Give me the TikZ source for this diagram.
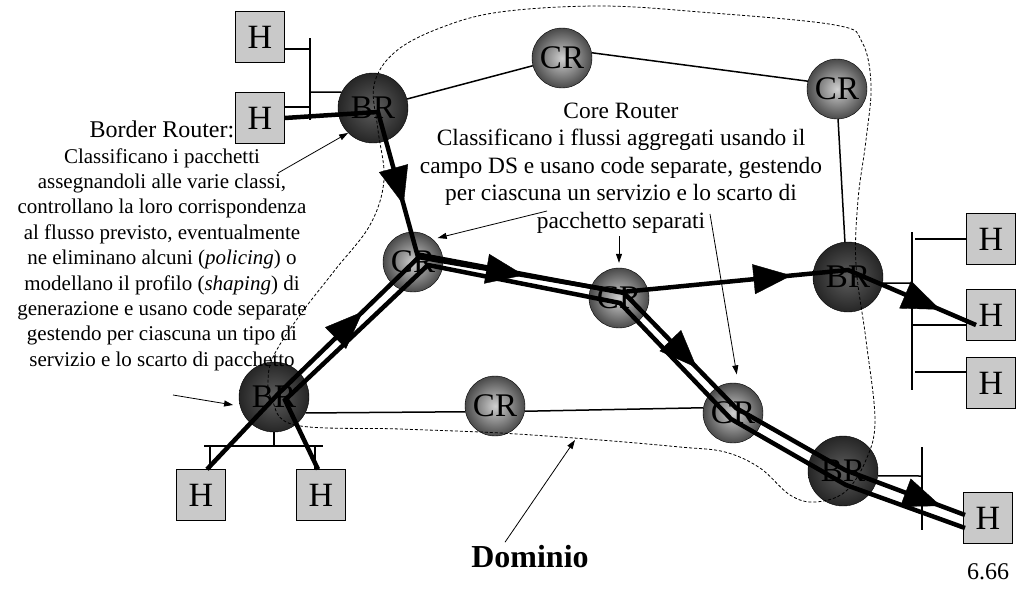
\documentclass[tikz,border=0pt]{standalone}
\usepackage{fontspec}
\setmainfont{Liberation Serif}
\usetikzlibrary{arrows.meta,decorations.markings}

\begin{document}
\begin{tikzpicture}[x=1pt,y=-1pt,
  router/.style={circle,draw,inner sep=0pt,shading=radial,font=\fontsize{33}{33}\selectfont},
  brnode/.style={router,minimum size=70pt,inner color=brin,outer color=brout},
  crnode/.style={router,minimum size=60pt,inner color=crin,outer color=crout},
  host/.style={draw,fill=hostgray,minimum width=49pt,minimum height=51pt,inner sep=0pt,font=\fontsize{34}{34}\selectfont},
  link/.style={line width=1.5pt},
  flow/.style={line width=4.5pt},
  midtip/.style={postaction=decorate,decoration={markings,mark=at position #1 with {\arrow{Triangle[length=38pt,width=30pt]}}}},
  note/.style={-{Triangle[length=9pt,width=6pt]},line width=0.8pt},
  boundary/.style={dash pattern=on 3pt off 2pt,line width=0.8pt}]
\definecolor{brin}{HTML}{5E5E5E}
\definecolor{brout}{HTML}{262626}
\definecolor{crin}{HTML}{CFCFCF}
\definecolor{crout}{HTML}{4A4A4A}
\definecolor{hostgray}{HTML}{C9C9C9}
\useasboundingbox (0,0) rectangle (1021,590);

\node[brnode] (BRtl) at (373,108) {BR};
\node[crnode] (CRt) at (562,58) {CR};
\node[crnode] (CRtr) at (837,89) {CR};
\node[crnode] (CRml) at (413,262) {CR};
\node[crnode] (CRmid) at (619,298) {CR};
\node[crnode] (CRb) at (495,406) {CR};
\node[brnode] (BRr) at (848,277) {BR};
\node[crnode] (CRlr) at (733,413) {CR};
\node[brnode] (BRbr) at (843,471) {BR};
\node[brnode] (BRbl) at (274,397) {BR};

\node[host] (Htl1) at (260,37) {H};
\node[host] (Htl2) at (260,118) {H};
\node[host] (Hr1) at (991,239) {H};
\node[host] (Hr2) at (991,315) {H};
\node[host] (Hr3) at (991,383) {H};
\node[host] (Hbr) at (988,518) {H};
\node[host] (Hbl1) at (201,495) {H};
\node[host] (Hbl2) at (321,495) {H};

\draw[link] (BRtl) -- (CRt);
\draw[link] (CRt.10) -- (CRtr.165);
\draw[link] (CRtr.-88) -- (BRr.95);
\draw[link] (BRbl.-27) -- (CRb.191);
\draw[link] (CRb.-10) -- (CRlr.170);

\draw[link] (310,38) -- (310,120);
\draw[link] ([yshift=-12pt]Htl1.east) -- +(25,0);
\draw[link] ([yshift=11pt]Htl2.east) -- +(25,0);
\draw[link] (BRtl.153) -- (310,92);
\draw[link] (912,232) -- (912,390);
\draw[link] (BRr.-10) -- (912,283);
\draw[link] (Hr1.west) -- (915,239);
\draw[link] ([yshift=-10pt]Hr2.west) -- (912,325);
\draw[link] ([yshift=11pt]Hr3.west) -- +(-51,0);
\draw[link] (922,447) -- (922,530);
\draw[link] (BRbr.-8) -- (922,476);
\draw[link] (204,446) -- (323,446);
\draw[link] (BRbl.south) -- (274,446);
\draw[link] ([xshift=9pt]Hbl1.north) -- +(0,-23);
\draw[link] ([xshift=-6pt]Hbl2.north) -- +(0,-23);

\coordinate (pA1) at ([xshift=5pt,yshift=-4pt]BRtl.center);
\coordinate (pA2) at ([xshift=5pt,yshift=5pt]CRml.center);
\coordinate (pA3) at ([xshift=3pt,yshift=6pt]CRmid.center);
\coordinate (pA4) at ([yshift=7pt]BRr.center);
\coordinate (pA5) at ([xshift=-15pt,yshift=-10pt]Hr2.center);
\coordinate (pB0) at ([xshift=6pt]Hbl1.north);
\coordinate (pB1) at ([xshift=5pt,yshift=4pt]BRbl.center);
\coordinate (pB2) at ([xshift=8pt,yshift=7pt]CRml.center);
\coordinate (pB3) at ([xshift=5pt,yshift=5pt]CRmid.center);
\coordinate (pB4) at ([xshift=3pt,yshift=5pt]CRlr.center);
\coordinate (pB5) at ([xshift=2pt,yshift=1pt]BRbr.center);
\coordinate (pB6) at ([xshift=-23pt,yshift=3pt]Hbr.center);
\coordinate (pC0) at ([xshift=-3pt]Hbl2.north);
\coordinate (pC1) at ([xshift=11pt,yshift=-3pt]BRbl.center);
\coordinate (pC2) at ([xshift=15pt,yshift=-3pt]CRml.center);
\coordinate (pC3) at ([xshift=1pt,yshift=-5pt]CRmid.center);
\coordinate (pC4) at ([xshift=-2pt,yshift=-6pt]CRlr.center);
\coordinate (pC5) at ([xshift=3pt,yshift=-14pt]BRbr.center);
\coordinate (pC6) at ([xshift=-23pt,yshift=-10pt]Hbr.center);

\draw[flow] (Htl2.east) -- (pA1) -- (pA2) -- (pA3) -- (pA4) -- (pA5);
\draw[flow] (pB0) -- (pB1) -- (pB2) -- (pB3) -- (pB4) -- (pB5) -- (pB6);
\draw[flow] (pC0) -- (pC1) -- (pC2) -- (pC3) -- (pC4) -- (pC5) -- (pC6);
\foreach \s/\e/\p in {pA1/pA2/0.64,pA2/pA3/0.52,pA3/pA4/0.75,pA4/pA5/0.72,pB1/pB2/0.59,pB3/pB4/0.65,pB5/pB6/0.8}
  {\path[midtip=\p] (\s) -- (\e);}

\draw[boundary] plot[smooth cycle,tension=0.6] coordinates {(272,400) (295,425) (400,429) (500,433) (600,440) (680,447) (725,452) (760,468) (790,495) (815,502) (845,492) (866,460) (875,420) (866,340) (856,265) (858,200) (866,140) (871,85) (862,42) (835,25) (700,12) (600,6) (500,12) (440,28) (395,52) (374,85) (378,130) (384,180) (370,225) (335,270) (300,315) (274,355) (268,380)};

\node[font=\fontsize{21}{25.4}\selectfont,align=center] (BRtext) at (162,246)
  {{\fontsize{24}{25.4}\selectfont Border Router:}\\ Classificano i pacchetti\\ assegnandoli alle varie classi,\\
   controllano la loro corrispondenza\\ al flusso previsto, eventualmente\\
   ne eliminano alcuni (\textit{policing}) o\\ modellano il profilo (\textit{shaping}) di\\
   generazione e usano code separate\\ gestendo per ciascuna un tipo di\\ servizio e lo scarto di pacchetto};
\node[font=\fontsize{23.4}{27.5}\selectfont,align=center] (CRtext) at (621,168)
  {Core Router\\ Classificano i flussi aggregati usando il\\ campo DS e usano code separate, gestendo\\
   per ciascuna un servizio e lo scarto di\\ pacchetto separati};
\node[font=\fontsize{32}{32}\selectfont\bfseries] (dom) at (530,557) {Dominio};
\node[font=\fontsize{24}{24}\selectfont] (page) at (988,572) {6.66};

\coordinate (n1) at (278,173);
\coordinate (n2) at (173,395);
\coordinate (n3) at (547,211);
\coordinate (n4) at (619,236);
\coordinate (n5) at (710,214);
\coordinate (n6) at (575,440);
\draw[note] (n1) -- (BRtl.225);
\draw[note,shorten >=7pt] (n2) -- (BRbl.195);
\draw[note,shorten >=5pt] (n3) -- (CRml.49);
\draw[note,shorten >=5pt] (n4) -- (CRmid.north);
\draw[note,shorten >=9pt] (n5) -- (CRlr.80);
\draw[note] ([xshift=-25pt]dom.north) -- (n6);
\end{tikzpicture}
\end{document}
